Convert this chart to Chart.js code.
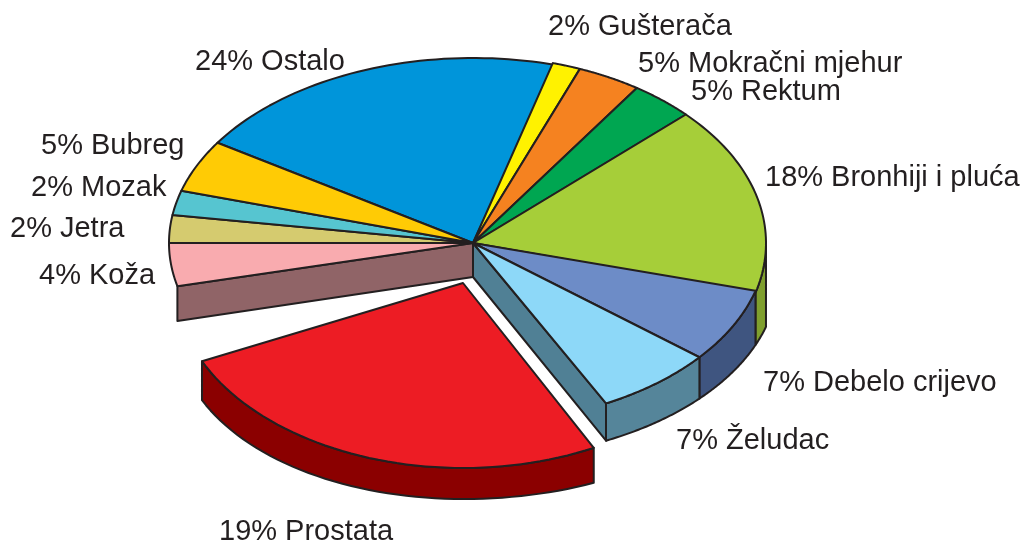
<!DOCTYPE html>
<html><head><meta charset="utf-8">
<style>html,body{margin:0;padding:0;background:#fff}#wrap{width:1025px;height:544px;position:relative}</style>
<script src="https://cdn.jsdelivr.net/npm/chart.js@4"></script>
</head><body><div id="wrap"><canvas id="c" width="1025" height="544"></canvas></div>
<script>
// Categories and the percentages printed on the picture
const categories = ['Ostalo','Gušterača','Mokračni mjehur','Rektum','Bronhiji i pluća','Debelo crijevo','Želudac','Prostata','','Koža','Jetra','Mozak','Bubreg'];
const percents   = [24,2,5,5,18,7,7,19,null,4,2,2,5];
// Angular size of each drawn slice (the gap left by the pulled-out slice is the empty category)
const drawnShares = [73,5.6,12.6,12.6,58.8,24,23.6,92,11.5,13.5,8.7,7.7,16.4];
const topColors  = ['#0095DA','#FFF200','#F58220','#00A651','#A6CE39','#6D8CC7','#8DD8F8','#ED1C24','rgba(0,0,0,0)','#F9ABAF','#D5CB6F','#56C5D0','#FFCB05'];
const wallColors = [null,null,null,null,'#7F9F2E','#3F5580','#55859A','#8B0000',null,null,null,null,null];
const faceColors = {6:'#508095',9:'#906467'};

// Style / layout
const INK='#231F20', LW=2;
const R=293, HUB={x:473,y:243}, EXPLODE={x:-10,y:40};
const radiiX=[304,293,293,293,293,293,293,288,293,304,304,304,304];
const radiiY=[185,187,187,187,187,180,180,185,185,185,185,185,185];
const floor={cy:276,rx:305,ry:183};
const labelSpots=[[195,70],[548,35],[638,72],[691,100],[765,186],[763,391],[676,449],[219,540],null,[39,284],[10,237],[31,196],[41,154]];
const FONT='29px "Liberation Sans", Arial, sans-serif';

const floorY=x=>{const t=(x-HUB.x)/floor.rx;return floor.cy+floor.ry*Math.sqrt(Math.max(0,1-t*t));};
const prostataDepth=x=>{const d=x-(HUB.x+EXPLODE.x);return d<0?31+8*(d/261)*(d/261):31+4*(d/132)*(d/132);};

const pie3d={
  id:'pie3d',
  beforeDatasetDraw(chart,args){
    const ctx=chart.ctx, els=chart.getDatasetMeta(0).data;
    const hub=i=>categories[i]==='Prostata'?{x:HUB.x+EXPLODE.x,y:HUB.y+EXPLODE.y}:HUB;
    const pt=(i,a)=>{const h=hub(i);return {x:h.x+radiiX[i]*Math.cos(a),y:h.y+radiiY[i]*Math.sin(a)};};
    const line=(pts,fill)=>{ctx.beginPath();pts.forEach((p,k)=>k?ctx.lineTo(p.x,p.y):ctx.moveTo(p.x,p.y));ctx.closePath();if(fill){ctx.fillStyle=fill;ctx.fill();}ctx.lineWidth=LW;ctx.strokeStyle=INK;ctx.lineJoin='round';ctx.stroke();};
    const arcPts=(i,e)=>{const n=48,pts=[];for(let k=0;k<=n;k++){pts.push(pt(i,e.startAngle+(e.endAngle-e.startAngle)*k/n));}return pts;};
    const outerWall=i=>{
      const e=els[i],isP=categories[i]==='Prostata';
      let pts=arcPts(i,e).filter(p=>p.y>=hub(i).y);
      const low=pts.map(p=>({x:p.x,y:isP?p.y+prostataDepth(p.x):Math.max(p.y,floorY(p.x))})).reverse();
      line(pts.concat(low),wallColors[i]);
    };
    const face=(i,angle)=>{
      const c=pt(i,angle);
      line([HUB,c,{x:c.x,y:floorY(c.x)},{x:HUB.x,y:floor.cy+1}],faceColors[i]);
    };
    const top=i=>{
      const e=els[i],h=hub(i);
      ctx.save();
      ctx.translate(h.x,h.y);ctx.scale(radiiX[i]/R,radiiY[i]/R);ctx.translate(-e.x,-e.y);
      e.draw(ctx,chart.chartArea);
      ctx.restore();
      line([h].concat(arcPts(i,e)),null);
    };
    const pIdx=categories.indexOf('Prostata');
    els.forEach((e,i)=>{if(faceColors[i]) face(i,i===6?e.endAngle:e.startAngle);});
    els.forEach((e,i)=>{if(wallColors[i]&&i!==pIdx) outerWall(i);});
    els.forEach((e,i)=>{if(i!==pIdx&&categories[i]) top(i);});
    outerWall(pIdx); top(pIdx);
    return false;
  },
  afterDraw(chart){
    const ctx=chart.ctx;
    ctx.save();ctx.font=FONT;ctx.fillStyle=INK;ctx.textBaseline='alphabetic';ctx.textAlign='left';
    categories.forEach((c,i)=>{if(c&&labelSpots[i]) ctx.fillText(percents[i]+'% '+c,labelSpots[i][0],labelSpots[i][1]);});
    ctx.restore();
  }
};
new Chart(document.getElementById('c'),{
  type:'pie',
  data:{labels:categories,datasets:[{data:drawnShares,backgroundColor:topColors,borderWidth:0,radius:R}]},
  options:{responsive:false,animation:false,events:[],rotation:302.8,
    plugins:{legend:{display:false},tooltip:{enabled:false}}},
  plugins:[pie3d]
});
</script></body></html>
